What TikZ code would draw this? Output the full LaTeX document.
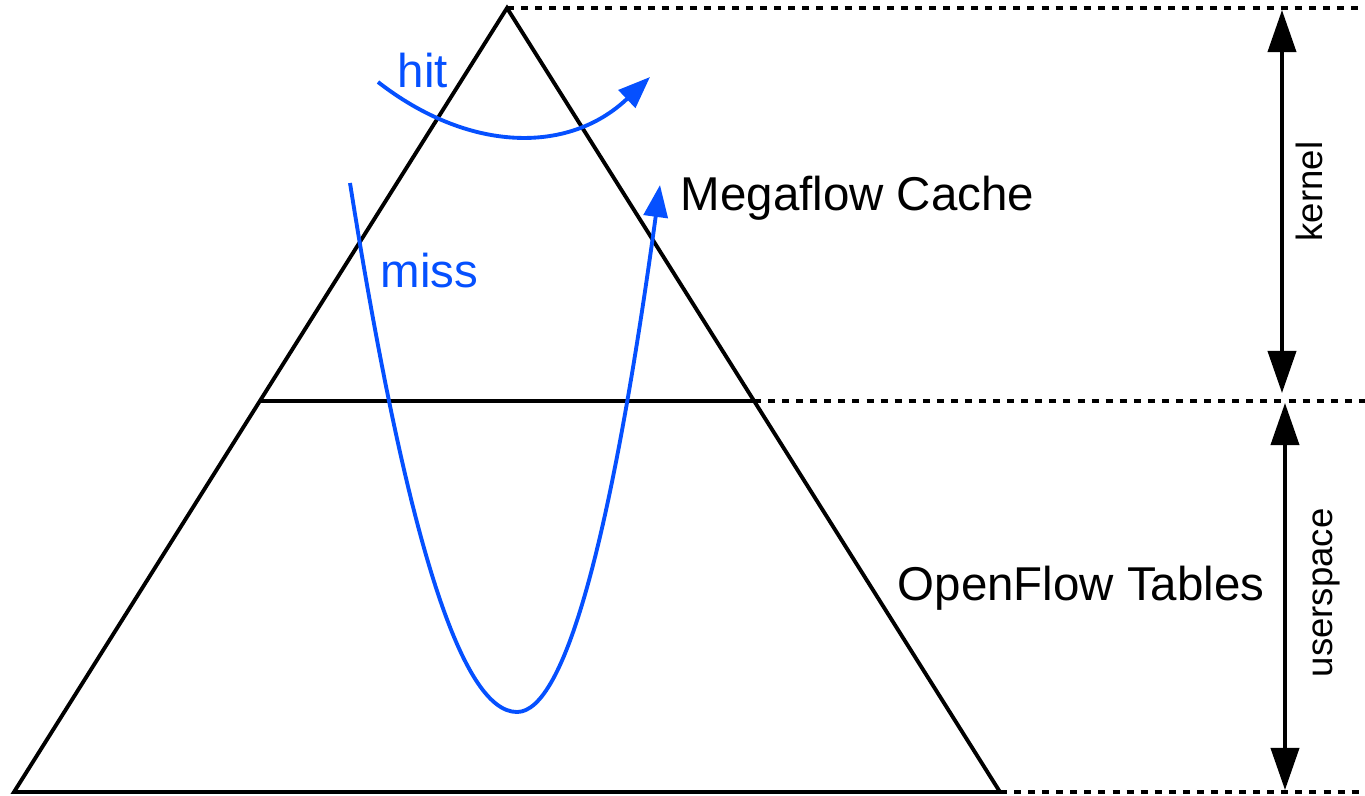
\documentclass[tikz,border=0pt]{standalone}
\usepackage{fontspec}
\setmainfont{Liberation Sans}
\usetikzlibrary{arrows.meta}
\definecolor{mfBlue}{RGB}{5,80,255}

\begin{document}
\begin{tikzpicture}[
    x=0.01cm, y=-0.01cm,
    edge/.style={line width=1.1pt, draw=black},
    level/.style={line width=1.1pt, dash pattern=on 2pt off 2pt},
    span/.style={line width=1.1pt, {Triangle[length=4.2mm,width=2.8mm]}-{Triangle[length=4.2mm,width=2.8mm]}},
    flow/.style={line width=1.1pt, draw=mfBlue, -{Triangle[length=3.2mm,width=2.4mm]}},
    flow note/.style={font=\fontsize{13.5}{16}\selectfont, text=mfBlue, inner sep=0pt, anchor=base west},
    tier note/.style={font=\fontsize{13.5}{16}\selectfont, inner sep=0pt, anchor=base west},
    side note/.style={font=\fontsize{10.4}{12}\selectfont, inner sep=0pt, anchor=base west, rotate=90}
]
  \useasboundingbox (0,0) rectangle (1365,796);

  % pyramid
  \coordinate (apex) at (507,8);
  \coordinate (base l) at (14,792);
  \coordinate (base r) at (1000,792);
  \coordinate (mid l) at (260,401);
  \coordinate (mid r) at (754,401);
  \draw[edge] (apex) -- (base l) -- (base r) -- cycle;
  \draw[edge] (mid l) -- (mid r);

  % level lines
  \coordinate (top e) at (1365,8);
  \coordinate (mid e) at (1365,401);
  \coordinate (bot e) at (1365,792);
  \draw[level] (apex) -- (top e);
  \draw[level] (mid r) -- (mid e);
  \draw[level] (base r) -- (bot e);

  % extents
  \coordinate (kern t) at (1282,10);
  \coordinate (kern b) at (1282,393);
  \coordinate (user t) at (1285,403);
  \coordinate (user b) at (1285,790);
  \draw[span] (kern t) -- (kern b);
  \draw[span] (user t) -- (user b);
  \node[side note] (kernel) at (1323,242) {kernel};
  \node[side note] (user) at (1333,678) {userspace};

  % tiers
  \node[tier note] (mega) at (680,210) {Megaflow Cache};
  \node[tier note] (oft) at (897,600) {OpenFlow Tables};

  % packet paths
  \coordinate (hit in) at (378,82);
  \coordinate (hit out) at (650,77);
  \coordinate (miss in) at (350,183);
  \coordinate (miss low) at (517,712);
  \coordinate (miss out) at (660,185);
  \draw[flow] (hit in) .. controls (468,152) and (568,155) .. (hit out);
  \draw[flow] (miss in) .. controls (406,536) and (461,712) .. (miss low)
    .. controls (565,712) and (612,536) .. (miss out);
  \node[flow note] (hit) at (397,87) {hit};
  \node[flow note] (miss) at (380,287) {miss};
\end{tikzpicture}
\end{document}
